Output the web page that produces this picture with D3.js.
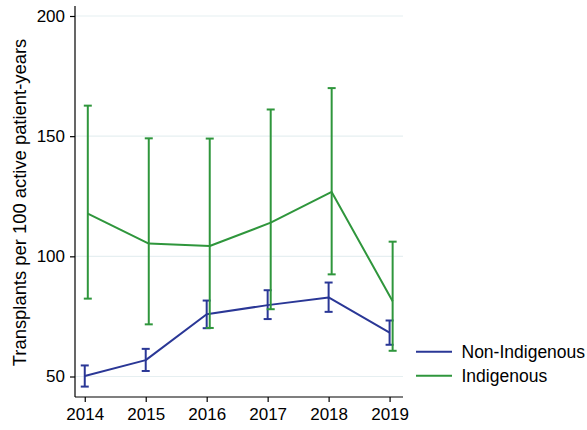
<!DOCTYPE html>
<html>
<head>
<meta charset="utf-8">
<script src="https://cdn.jsdelivr.net/npm/d3@7"></script>
<style>
  html, body { margin: 0; padding: 0; background: #fff; }
  svg { display: block; font-family: Arial, "Liberation Sans", sans-serif; }
</style>
</head>
<body>
<svg id="chart" width="587" height="430"></svg>
<script>
// Transplant rates by year, with 95% confidence intervals
const years = [2014, 2015, 2016, 2017, 2018, 2019];

const nonIndigenousRate  = [50.2, 56.8, 75.9, 79.7, 82.9, 68.3];
const nonIndigenousLower = [45.8, 52.3, 70.1, 73.9, 76.9, 63.2];
const nonIndigenousUpper = [54.6, 61.5, 81.6, 85.9, 89.1, 73.3];

const indigenousRate  = [117.8, 105.3, 104.3, 114.0, 126.8, 81.3];
const indigenousLower = [82.4, 71.7, 70.2, 78.0, 92.5, 60.7];
const indigenousUpper = [162.7, 149.1, 149.0, 161.1, 170.0, 106.1];

const yTicks = [50, 100, 150, 200];
const seriesNames = ["Non-Indigenous", "Indigenous"];

const colors = { nonInd: "#2a3796", ind: "#2f963c" };

const svg = d3.select("#chart");

const x = d3.scaleLinear().domain([2013.84, 2019.22]).range([75, 403]);
const y = d3.scaleLinear().domain([50, 200]).range([376.5, 16]);
const plotTop = 6, plotBottom = 397;

// gridlines
svg.append("g")
  .selectAll("line")
  .data(yTicks)
  .join("line")
  .attr("x1", 75).attr("x2", 403)
  .attr("y1", d => y(d)).attr("y2", d => y(d))
  .attr("stroke", "#e6eff1").attr("stroke-width", 1.2);

// y axis
const yAxis = svg.append("g")
  .attr("transform", "translate(75,0)")
  .call(d3.axisLeft(y).tickValues(yTicks).tickSize(5).tickPadding(5).tickSizeOuter(0));
yAxis.select(".domain").attr("d", `M0,${plotTop}V${plotBottom}`).attr("stroke", "#000").attr("stroke-width", 1.2);
yAxis.selectAll(".tick line").attr("stroke", "#000").attr("stroke-width", 1.2);
yAxis.selectAll(".tick text").attr("font-size", 17).attr("fill", "#000").attr("font-family", "Arial, 'Liberation Sans', sans-serif");

// x axis
const xAxis = svg.append("g")
  .attr("transform", `translate(0,${plotBottom})`)
  .call(d3.axisBottom(x).tickValues(years).tickFormat(d3.format("d")).tickSize(5).tickPadding(5.5).tickSizeOuter(0));
xAxis.select(".domain").attr("d", `M75,0H403`).attr("stroke", "#000").attr("stroke-width", 1.2);
xAxis.selectAll(".tick line").attr("stroke", "#000").attr("stroke-width", 1.2);
xAxis.selectAll(".tick text").attr("font-size", 17).attr("fill", "#000").attr("font-family", "Arial, 'Liberation Sans', sans-serif");

// y axis title
svg.append("text")
  .attr("transform", `translate(25.5,202.5) rotate(-90)`)
  .attr("text-anchor", "middle")
  .attr("font-size", 18.4)
  .attr("fill", "#000")
  .text("Transplants per 100 active patient-years");

function drawSeries(rate, lower, upper, color, shift) {
  const g = svg.append("g");
  const pts = years.map((yr, i) => ({ yr: yr + shift, r: rate[i], lo: lower[i], hi: upper[i] }));
  const capHalf = 4;
  pts.forEach(p => {
    const cx = x(p.yr);
    g.append("line").attr("x1", cx).attr("x2", cx).attr("y1", y(p.lo)).attr("y2", y(p.hi))
      .attr("stroke", color).attr("stroke-width", 2);
    [p.lo, p.hi].forEach(v => {
      g.append("line").attr("x1", cx - capHalf).attr("x2", cx + capHalf).attr("y1", y(v)).attr("y2", y(v))
        .attr("stroke", color).attr("stroke-width", 2);
    });
  });
  g.append("path")
    .datum(pts)
    .attr("fill", "none")
    .attr("stroke", color)
    .attr("stroke-width", 2)
    .attr("stroke-linejoin", "round")
    .attr("d", d3.line().x(p => x(p.yr)).y(p => y(p.r)));
}

drawSeries(nonIndigenousRate, nonIndigenousLower, nonIndigenousUpper, colors.nonInd, 0);
drawSeries(indigenousRate, indigenousLower, indigenousUpper, colors.ind, 0.05);

// legend
const legend = svg.append("g");
const legendColors = [colors.nonInd, colors.ind];
seriesNames.forEach((name, i) => {
  const ly = 351.7 + i * 24;
  legend.append("line").attr("x1", 416).attr("x2", 452).attr("y1", ly).attr("y2", ly)
    .attr("stroke", legendColors[i]).attr("stroke-width", 2);
  legend.append("text").attr("x", 461.5).attr("y", ly).attr("dy", "0.35em")
    .attr("font-size", 17.5).attr("fill", "#000").text(name);
});
</script>
</body>
</html>
